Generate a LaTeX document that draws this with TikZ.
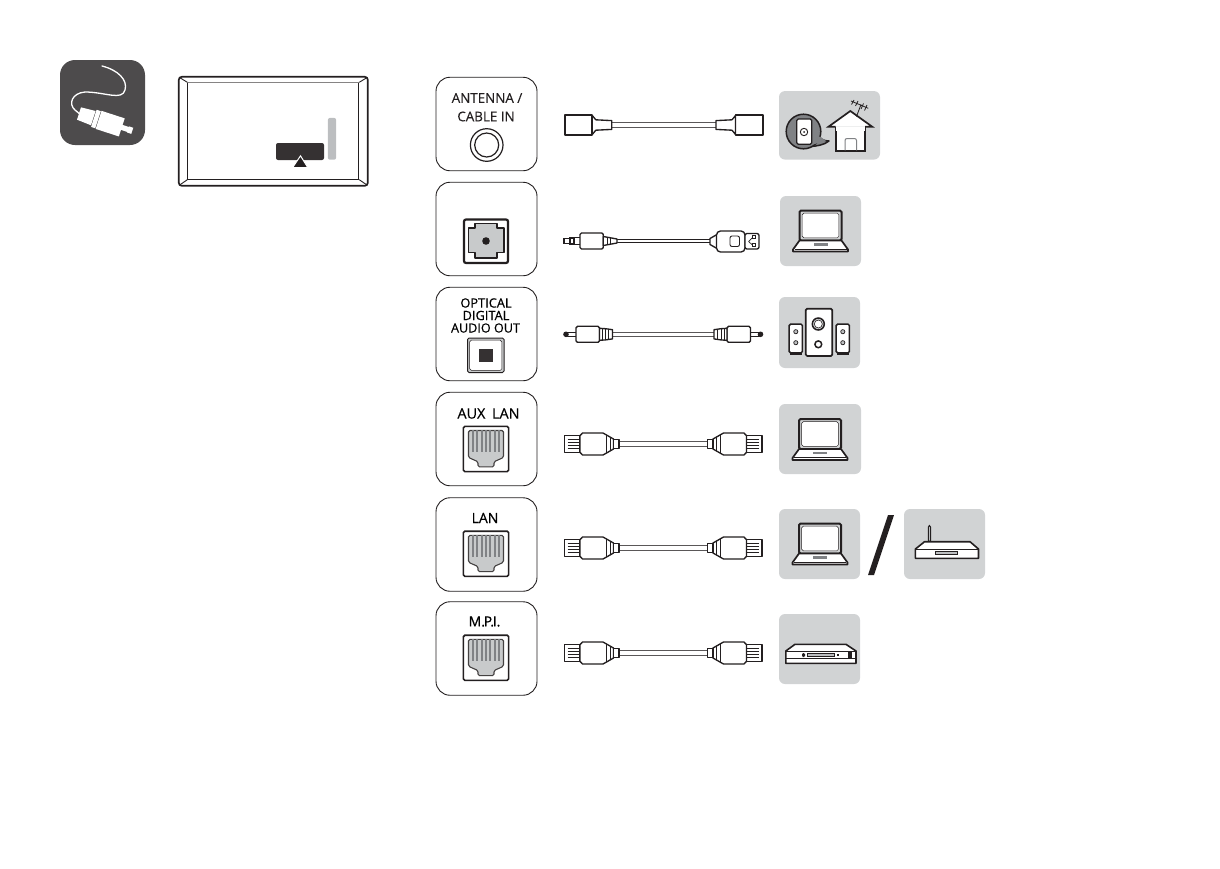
\documentclass[tikz,border=0pt]{standalone}
\usepackage{fontspec}
\setmainfont[FakeBold=0.12]{Open Sans}
\newfontfamily\boldish[FakeBold=0.5]{Open Sans}
\usetikzlibrary{calc}
\definecolor{ink}{HTML}{231F20}
\definecolor{tilegray}{HTML}{D1D3D4}
\definecolor{midgray}{HTML}{BCBEC0}
\definecolor{darkicon}{HTML}{4D4B4C}
\definecolor{pingray}{HTML}{808285}
\definecolor{portgray}{HTML}{C8CACB}
\tikzset{
  panel/.style={draw=ink,line width=0.9pt,rounded corners=14pt,minimum width=101pt,minimum height=93.5pt,inner sep=0pt,fill=white},
  tile/.style={fill=tilegray,rounded corners=6pt,inner sep=0pt,minimum height=70pt},
  ptext/.style={inner sep=0pt,text=ink,font=\fontsize{13.4}{14}\selectfont},
  btext/.style={inner sep=0pt,text=black,font=\boldish\fontsize{14}{15}\selectfont},
  ol/.style={draw=ink,line width=1.35pt,line join=round,fill=white},
  thick ol/.style={draw=ink,line width=1.7pt,line join=round,fill=white},
  wire/.style={draw=ink!75,line width=1.1pt,double=white,double distance=3.4pt},
  thin wire/.style={draw=ink,line width=1pt,double=white,double distance=2.4pt},
  ethplug/.pic={
    \draw[ol] (0,-8.3) rectangle (15.5,8.3);
    \foreach \yy in {-4.5,-1.5,1.5,4.5}{\draw[ink,line width=0.7pt] (3,\yy) -- (15.5,\yy);}
    \draw[ol] (15.5,-8.3) -- (18,-11) -- (38.5,-11) -- (49,-5) -- (49,5) -- (38.5,11) -- (18,11) -- (15.5,8.3) -- cycle;
    \draw[ink,line width=1pt] (41.5,-9) -- (41.5,9) (45.5,-7) -- (45.5,7);
    \draw[ol] (49,-4.6) rectangle (54.5,4.6);
  },
  optplug/.pic={
    \draw[ol] (3,-2) rectangle (12,2);
    \fill[ink] (1.5,0) circle (2.8pt);
    \draw[ol,rounded corners=1.5pt] (11.5,-8) rectangle (35,8);
    \draw[ol] (35,-6) -- (41,-5.6) -- (48,-4.6) -- (48,4.6) -- (41,5.6) -- (35,6) -- cycle;
    \draw[ink,line width=1pt] (38,-5.7) -- (38,5.7) (41,-5.5) -- (41,5.5) (44.3,-5.2) -- (44.3,5.2);
  },
  coaxplug/.pic={
    \draw[thick ol] (0,-10) rectangle (27.5,10);
    \draw[ol] (27.5,-9.5) -- (31,-5.2) -- (47,-4.4) -- (47,4.4) -- (31,5.2) -- (27.5,9.5) -- cycle;
  },
  laptop/.pic={
    \draw[draw=ink,line width=2pt,fill=tilegray,rounded corners=1.5pt] (-21,-20.5) rectangle (21,9.5);
    \draw[draw=ink,line width=0.5pt,fill=white,rounded corners=1.5pt] (-18.3,-17.8) rectangle (18.3,6.8);
    \draw[draw=ink,line width=1.7pt,fill=white,line join=round] (-21,9.5) -- (21,9.5) -- (27.5,18.5) -- (27.5,20.5) -- (-27.5,20.5) -- (-27.5,18.5) -- cycle;
    \fill[pingray] (-7,12) rectangle (7,14.5);
    \draw[ink,line width=0.7pt] (-26,18) -- (26,18);
  },
  rjport/.pic={
    \draw[draw=ink,line width=1.6pt,fill=white,rounded corners=1.5pt] (-22.6,-22.6) rectangle (22.6,22.6);
    \draw[draw=ink!85,line width=1.1pt,fill=portgray,line join=round,rounded corners=1.5pt]
      (-17.5,-18.5) -- (17.5,-18.5) -- (17.5,8.5) -- (8,12.7) -- (8,17.8) -- (-8,17.8) -- (-8,12.7) -- (-17.5,8.5) -- cycle;
    \foreach \xx in {-13,-8.7,-4.4,-0.1,4.2,8.5,12.8}{\draw[pingray,line width=2pt] (\xx,-19) -- (\xx,2.8);}
  },
}
\begin{document}
\begin{tikzpicture}[x=1pt,y=-1pt]
\useasboundingbox (0,0) rectangle (1220,868);

% ---- left icon
\node[fill=darkicon,rounded corners=15pt,minimum width=85pt,minimum height=85pt,inner sep=0pt] (icon) at (102.5,102.5) {};
\coordinate (wirestart) at (102,66);
\coordinate (wireend) at (81,115);
\draw[white,line width=1.3pt,line cap=round] (wirestart) .. controls (118,70) and (128,80) .. (125,90)
   .. controls (122,101) and (105,92) .. (85,92) .. controls (72,93) and (68,104) .. (75,110) -- (wireend);
\begin{scope}[shift={(79,113.5)},rotate=-18]
  \fill[white] (0,-6.5) -- (15,-7.5) -- (15,7.5) -- (0,6.5) -- cycle;
  \fill[white] (15.6,-9) rectangle (20,9);
  \fill[white] (20.6,-9.5) rectangle (45,9.5);
  \fill[white] (44.5,-2.6) rectangle (52,2.6);
  \fill[white] (51.5,-3.2) rectangle (56,3.2);
\end{scope}

% ---- TV rear outline
\node[draw=ink,line width=1.7pt,rounded corners=3pt,minimum width=189pt,minimum height=109pt,inner sep=0pt] (tv) at (273.3,131.3) {};
\node[draw=ink,line width=0.8pt,minimum width=171pt,minimum height=96.5pt,inner sep=0pt] (screen) at (273.3,131) {};
\draw[ink!55,line width=1.6pt] (screen.north west) -- (screen.north east);
\draw[ink,line width=0.9pt] ($(tv.north west)+(1.5,1.5)$) -- (screen.north west) ($(tv.north east)+(-1.5,1.5)$) -- (screen.north east)
   ($(tv.south west)+(1.5,-1.5)$) -- (screen.south west) ($(tv.south east)+(-1.5,-1.5)$) -- (screen.south east);
\node[fill=midgray,rounded corners=2pt,minimum width=8.3pt,minimum height=41.7pt,inner sep=0pt] (sidebar) at (332,138.8) {};
\node[fill=ink!92,rounded corners=2pt,minimum width=48pt,minimum height=17pt,inner sep=0pt] (bottombar) at (300,151.5) {};
\draw[white,fill=ink,line width=1pt,line join=miter] (300.5,155.8) -- (307.8,167.6) -- (292.6,167.6) -- cycle;

% ---- port panels
\node[panel] (p1) at (486.5,124) {};
\node[panel] (p2) at (486.5,229) {};
\node[panel] (p3) at (486.5,334) {};
\node[panel] (p4) at (486.5,439) {};
\node[panel] (p5) at (486.5,544.5) {};
\node[panel] (p6) at (486.5,648.5) {};

\node[ptext] (t1a) at (487,98) {ANTENNA /};
\node[ptext] (t1b) at (486,116.5) {CABLE IN};
\draw[ink,line width=1.2pt] (486.7,145) circle (16.3pt);
\draw[ink,line width=1.2pt] (486.7,145) circle (12pt);

% USB-audio port
\draw[draw=ink,line width=2.2pt,fill=white,rounded corners=2pt] (464,219.5) rectangle (508,263);
\draw[draw=ink,line width=1.1pt,fill=portgray,line join=round]
  (475,223.5) -- (497,223.5) -- (497,228) -- (504,228) -- (504,252.5) -- (497,252.5) -- (497,258) -- (475,258) -- (475,252.5) -- (468.5,252.5) -- (468.5,228) -- (475,228) -- cycle;
\fill[ink] (486,241) circle (3.8pt);

% optical port
\node[btext,font=\boldish\fontsize{12.8}{14}\selectfont] (t3a) at (486,303) {OPTICAL};
\node[btext,font=\boldish\fontsize{12.8}{14}\selectfont] (t3b) at (486,315.5) {DIGITAL};
\node[btext,font=\boldish\fontsize{12.6}{14}\selectfont] (t3c) at (485.5,328) {AUDIO OUT};
\draw[draw=ink,line width=1pt,fill=portgray,rounded corners=1.5pt] (467.5,338) rectangle (504,372.5);
\draw[draw=ink,line width=0.5pt,fill=white,rounded corners=1.5pt] (469.7,340.2) rectangle (501.8,370.3);
\fill[ink!92] (479,349) rectangle (492.7,362);

% LAN ports
\node[btext,font=\boldish\fontsize{14.4}{15}\selectfont] (t4) at (488.5,413.5) {AUX\hspace{3pt} LAN};
\pic at (486,449) {rjport};
\node[btext] (t5) at (485,518) {LAN};
\pic at (486,553.8) {rjport};
\node[btext] (t6) at (484.5,621.5) {M.\kern-1.3pt P.\kern-1.3pt I.};
\pic at (486,657.8) {rjport};

% ---- cables
\coordinate (c1a) at (611.5,125); \coordinate (c1b) at (716.5,125);
\draw[wire] (c1a) -- (c1b);
\pic at (564.8,125) {coaxplug};
\pic[xscale=-1] at (763,125) {coaxplug};

% jack to USB cable
\coordinate (c2a) at (617,241); \coordinate (c2b) at (710,241);
\draw[thin wire] (c2a) -- (c2b);
\draw[ink,fill=white,line width=1.2pt] (564,238.5) rectangle (570,243.5);
\draw[ink,fill=white,line width=1.2pt] (570,238) rectangle (574,244);
\draw[ink,fill=white,line width=1.2pt] (574,237.8) rectangle (581,244.2);
\draw[ol,rounded corners=1.5pt] (580,233) rectangle (603.3,249);
\draw[ol] (603.3,236.5) -- (617,239) -- (617,243) -- (603.3,245.5) -- cycle;
\draw[ink,line width=0.9pt] (607,237.5) -- (607,244.5) (610,238) -- (610,244);
\draw[ol] (710,238.5) -- (717,234.5) -- (717,248.5) -- (710,244.5) -- cycle;
\draw[ol,rounded corners=4pt] (716.5,231) rectangle (745,252);
\draw[ol,rounded corners=2pt] (745,233.5) rectangle (759,249);
\draw[ink,line width=0.9pt,rounded corners=2pt] (730,236) rectangle (739.5,246.5);
\draw[ink,line width=0.7pt] (748.5,241.5) -- (752.5,237.5) (748.5,241.5) -- (752.5,245);
\draw[ink,line width=0.7pt] (752,235.5) rectangle (755.5,238.8) (752,243.5) rectangle (755.5,246.5);

% optical cable
\coordinate (c3a) at (612,334.3); \coordinate (c3b) at (714,334.3);
\draw[wire] (c3a) -- (c3b);
\pic at (564.5,334.3) {optplug};
\pic[xscale=-1] at (762,334.3) {optplug};

% Ethernet cables
\coordinate (c4a) at (619,444); \coordinate (c4b) at (707,444);
\draw[wire] (c4a) -- (c4b);
\pic at (564.5,444) {ethplug};
\pic[xscale=-1] at (762,444) {ethplug};
\coordinate (c5a) at (619,548); \coordinate (c5b) at (707,548);
\draw[wire] (c5a) -- (c5b);
\pic at (564.5,548) {ethplug};
\pic[xscale=-1] at (762,548) {ethplug};
\coordinate (c6a) at (619,653); \coordinate (c6b) at (707,653);
\draw[wire] (c6a) -- (c6b);
\pic at (564.5,653) {ethplug};
\pic[xscale=-1] at (762,653) {ethplug};

% ---- device tiles
\node[tile,minimum width=101pt,minimum height=68.5pt] (d1) at (829.5,125.3) {};
\node[tile,minimum width=81pt] (d2) at (820.5,231) {};
\node[tile,minimum width=81pt,minimum height=71pt] (d3) at (819.5,332.5) {};
\node[tile,minimum width=82pt] (d4) at (820,439) {};
\node[tile,minimum width=81pt] (d5) at (819.5,544) {};
\node[tile,minimum width=81pt] (d5b) at (944.5,544) {};
\node[tile,minimum width=81pt] (d6) at (819.5,649) {};

% antenna / house
\draw[draw=ink,line width=1.5pt,fill=pingray,line join=round] (819,136) .. controls (820,139) and (824,141) .. (829,141) .. controls (824,145) and (817,146) .. (811,146.5) -- cycle;
\draw[draw=ink,line width=1.5pt,fill=pingray] (803.5,131.5) circle (17.3pt);
\fill[pingray] (812,138) -- (820,136.5) -- (826,141) -- (811,145) -- cycle;
\draw[draw=ink,line width=1.2pt,fill=white,rounded corners=1.5pt] (796.7,119) rectangle (811.7,144.3);
\draw[ink,line width=0.9pt] (804,132) circle (3.7pt);
\fill[ink] (804,132) circle (1pt);
\draw[draw=ink,line width=1.7pt,fill=white,line join=miter] (835.7,127) -- (835.7,151) -- (865,151) -- (865,127);
\fill[white] (835.7,127) rectangle (865,131);
\draw[draw=ink,line width=1.7pt,fill=white,line join=miter] (835.7,126.7) -- (828.5,126.7) -- (850.3,111) -- (872.2,126.7) -- (865,126.7);
\draw[pingray,line width=1pt,rounded corners=2pt] (845,150.3) -- (845,138.5) -- (856.5,138.5) -- (856.5,150.3);
\draw[ink,line width=0.8pt] (856.5,116.5) -- (861,104.5);
\draw[ink,line width=0.8pt] (851,101) -- (868.3,108.3);
\draw[ink,line width=0.8pt] (854,100) -- (851.5,104.5) (858,101) -- (855.5,106) (863.5,103.5) -- (861,109) (867,105) -- (864.5,110.5);

% laptops
\pic at (820.5,231) {laptop};
\pic at (820,439.5) {laptop};
\pic at (820,544) {laptop};

% speakers
\draw[draw=ink,line width=1.7pt,fill=white,rounded corners=1.5pt] (805.7,308.7) rectangle (832.3,356);
\draw[ink,line width=1.5pt,fill=tilegray] (818.3,324) circle (6pt);
\draw[ink,line width=0.6pt,fill=white] (818.3,324) circle (4pt);
\draw[ink,line width=1.5pt,fill=white] (818.3,344.3) circle (3.4pt);
\foreach \sx in {789.2,836.2}{
  \draw[draw=ink,line width=1.5pt,fill=white,rounded corners=1.5pt] (\sx,324) rectangle ++(13.2,29);
  \fill[ink] (\sx+0.5,352) rectangle ++(12,3);
  \draw[ink,line width=0.7pt,fill=midgray] (\sx+6.6,331.7) circle (2.1pt);
  \draw[ink,line width=0.7pt,fill=midgray] (\sx+6.6,342.7) circle (2.1pt);
}

% slash
\fill[ink] (888,515) -- (894,515) -- (874,575) -- (868,575) -- cycle;

% router
\draw[draw=ink,line width=1pt,fill=midgray] (928.3,541) -- (928.3,527) .. controls (928.3,525) and (930.5,525) .. (930.5,527) -- (930.5,541) -- cycle;
\draw[draw=ink,line width=1.6pt,fill=white,line join=round] (924.5,541.7) -- (970,541.7) -- (978.5,549) -- (978.5,558.3) -- (915.4,558.3) -- (915.4,549) -- cycle;
\draw[ink,line width=0.7pt] (915.4,549) -- (978.5,549);
\draw[draw=ink,line width=0.7pt,fill=midgray] (935.5,551) rectangle (957.5,554);

% DVD player
\draw[draw=ink,line width=1.6pt,fill=white,line join=round] (795,644.3) -- (846,644.3) -- (856,651) -- (856,663.3) -- (785.8,663.3) -- (785.8,651) -- cycle;
\draw[ink,line width=0.9pt] (785.8,651) -- (856,651);
\draw[ink,line width=1.2pt] (785.8,658.5) -- (856,658.5);
\draw[draw=ink,line width=0.7pt,fill=midgray] (807.7,653.2) rectangle (834.4,656.6);
\fill[ink] (802,654) rectangle (805,656) (802.6,653) rectangle (804.4,657);
\fill[ink] (836.5,654) rectangle (838.5,656);
\fill[ink] (848,651.5) rectangle (851.5,658);
\end{tikzpicture}
\end{document}
